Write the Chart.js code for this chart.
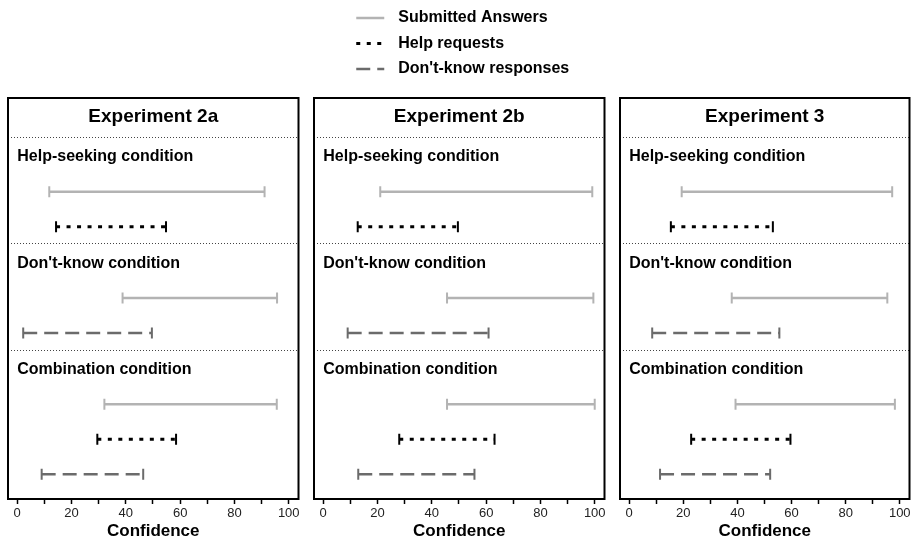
<!DOCTYPE html>
<html>
<head>
<meta charset="utf-8">
<script src="https://cdn.jsdelivr.net/npm/chart.js@4"></script>
<style>
  body { margin: 0; background: #fff; }
  #wrap { position: relative; width: 917px; height: 539px; overflow: hidden; }
  canvas { position: absolute; top: 0; }
</style>
</head>
<body>
<div id="wrap">
  <canvas id="p0" width="306" height="540" style="left:0px"></canvas>
  <canvas id="p1" width="306" height="540" style="left:306px"></canvas>
  <canvas id="p2" width="305" height="540" style="left:612px"></canvas>
</div>
<script>
const FONT = '"Liberation Sans", Arial, Helvetica, sans-serif';

// data
const experiments = ['Experiment 2a', 'Experiment 2b', 'Experiment 3'];
const conditions = ['Help-seeking condition', "Don't-know condition", 'Combination condition'];
const seriesNames = ['Submitted Answers', 'Help requests', "Don't-know responses"];

// [low, high] confidence per condition, one list per experiment
const submitted2a = [[11.8, 91.1], [38.8, 95.7], [32.1, 95.6]];
const submitted2b = [[21.0, 99.1], [45.6, 99.5], [45.6, 100]];
const submitted3  = [[19.4, 97.2], [37.9, 95.4], [39.3, 98.2]];
const help2a = [[14.3, 54.8], null, [29.5, 58.5]];
const help2b = [[12.7, 49.6], null, [28.0, 63.1]];
const help3  = [[15.4, 53.1], null, [22.9, 59.6]];
const dontKnow2a = [null, [2.2, 49.6], [9.0, 46.4]];
const dontKnow2b = [null, [9.0, 60.9], [12.9, 55.7]];
const dontKnow3  = [null, [8.5, 55.5], [11.4, 52.1]];

const xTicks = [0, 20, 40, 60, 80, 100];

const seriesByExp = [
  [submitted2a, help2a, dontKnow2a],
  [submitted2b, help2b, dontKnow2b],
  [submitted3, help3, dontKnow3]
];

// styles
const styles = [
  { color: '#b3b3b3', width: 2.5, dash: [] },
  { color: '#000000', width: 3, dash: [4, 6.5] },
  { color: '#6b6b6b', width: 2.5, dash: [14, 7] }
];

// vertical layout in row units (y axis reversed)
const Y_MAX = 11.47;
const sectionTop = [1.12, 4.16, 7.2];
const titleY = 0.54;

function buildDatasets(e) {
  const sets = [];
  conditions.forEach((c, ci) => {
    let row = 0;
    seriesByExp[e].forEach((ser, si) => {
      const iv = ser[ci];
      if (!iv) return;
      const yv = sectionTop[ci] + 1.56 + row;
      row++;
      const st = styles[si];
      sets.push({
        label: seriesNames[si],
        data: [{ x: iv[0], y: yv }, { x: iv[1], y: yv }],
        borderColor: st.color,
        borderWidth: st.width,
        borderDash: st.dash,
        borderCapStyle: 'butt',
        pointStyle: 'line',
        rotation: 90,
        pointRadius: 5.5,
        pointHoverRadius: 5.5,
        pointBorderColor: st.color,
        pointBorderWidth: 2,
        fill: false,
        tension: 0
      });
    });
  });
  return sets;
}

const panelPlugin = {
  id: 'panel',
  beforeDatasetsDraw(chart, args, opts) {
    const { ctx, chartArea: a, scales: { x, y } } = chart;
    ctx.save();
    ctx.strokeStyle = '#444';
    ctx.lineWidth = 1;
    ctx.setLineDash([1, 2]);
    sectionTop.forEach(v => {
      const py = Math.round(y.getPixelForValue(v)) + 0.5;
      ctx.beginPath();
      ctx.moveTo(a.left, py);
      ctx.lineTo(a.right, py);
      ctx.stroke();
    });
    ctx.setLineDash([]);
    ctx.fillStyle = '#000';
    ctx.textBaseline = 'middle';
    ctx.textAlign = 'center';
    ctx.font = 'bold 19px ' + FONT;
    ctx.fillText(opts.title, (a.left + a.right) / 2, y.getPixelForValue(titleY));
    ctx.textAlign = 'left';
    ctx.font = 'bold 16px ' + FONT;
    conditions.forEach((c, ci) => {
      ctx.fillText(c, x.getPixelForValue(0), y.getPixelForValue(sectionTop[ci] + 0.57));
    });
    ctx.restore();
  },
  afterDraw(chart, args, opts) {
    const { ctx, chartArea: a } = chart;
    ctx.save();
    ctx.strokeStyle = '#000';
    ctx.lineWidth = 2;
    ctx.strokeRect(a.left, a.top, a.right - a.left, a.bottom - a.top);
    if (opts.legend) {
      const cx = (a.left + a.right) / 2;
      ctx.font = 'bold 16px ' + FONT;
      ctx.textBaseline = 'middle';
      ctx.textAlign = 'left';
      seriesNames.forEach((n, i) => {
        const ly = 18 + i * 25.5;
        const st = styles[i];
        ctx.strokeStyle = st.color;
        ctx.lineWidth = st.width;
        ctx.setLineDash(st.dash);
        ctx.beginPath();
        ctx.moveTo(cx - 103, ly);
        ctx.lineTo(cx - 75, ly);
        ctx.stroke();
        ctx.setLineDash([]);
        ctx.fillStyle = '#000';
        ctx.fillText(n, cx - 61, ly);
      });
    }
    ctx.restore();
  }
};

const padRight = [7, 5, 4];

experiments.forEach((exp, e) => {
  new Chart(document.getElementById('p' + e), {
    type: 'line',
    data: { datasets: buildDatasets(e) },
    plugins: [panelPlugin],
    options: {
      responsive: false,
      animation: false,
      events: [],
      layout: { padding: { left: 8, right: padRight[e], top: 98, bottom: 0 } },
      plugins: {
        legend: { display: false },
        tooltip: { enabled: false },
        panel: { title: exp, legend: e === 1 }
      },
      scales: {
        x: {
          type: 'linear',
          min: -3.4,
          max: 103.6,
          afterBuildTicks: s => { s.ticks = [0, 10, 20, 30, 40, 50, 60, 70, 80, 90, 100].map(v => ({ value: v })); },
          ticks: {
            autoSkip: false,
            maxRotation: 0,
            callback: v => xTicks.includes(v) ? String(v) : '',
            font: { family: FONT, size: 13, lineHeight: 1.0 },
            color: '#222',
            padding: 3
          },
          grid: {
            display: true,
            drawOnChartArea: false,
            drawTicks: true,
            tickLength: 5,
            tickColor: '#000',
            tickWidth: 1.5
          },
          border: { display: false },
          title: {
            display: true,
            text: 'Confidence',
            color: '#000',
            font: { family: FONT, size: 17, weight: 'bold', lineHeight: 1.0 },
            padding: { top: 0, bottom: 0 }
          }
        },
        y: {
          type: 'linear',
          display: false,
          min: 0,
          max: Y_MAX,
          reverse: true
        }
      }
    }
  });
});
</script>
</body>
</html>
